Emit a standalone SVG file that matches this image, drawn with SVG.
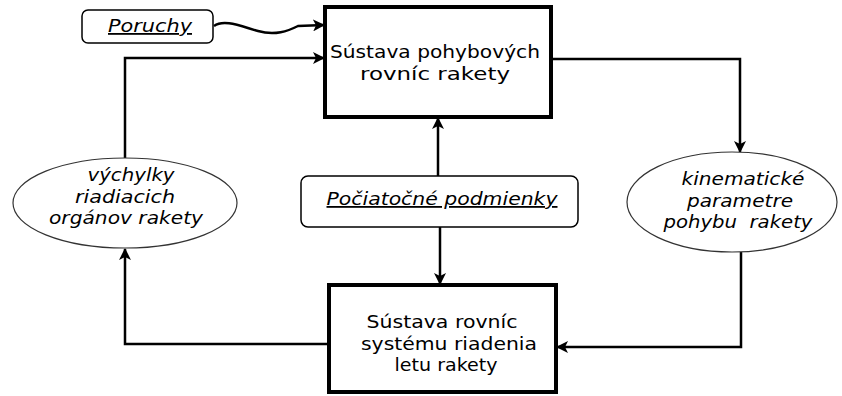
<svg xmlns="http://www.w3.org/2000/svg" width="842" height="396" viewBox="0 0 842 396">
  <style>
    .box { fill: #fff; stroke: #000; stroke-width: 4; }
    .tag { fill: #fff; stroke: #000; stroke-width: 1.5; }
    .oval { fill: #fff; stroke: #333; stroke-width: 1.2; }
    .line { fill: none; stroke: #000; stroke-width: 2.5; }
    .t { font-family: "DejaVu Sans", "Liberation Sans", sans-serif; font-size: 18px; fill: #000; text-anchor: middle; }
    .i { font-family: "DejaVu Sans", "Liberation Sans", sans-serif; font-size: 18px; font-style: italic; fill: #000; text-anchor: middle; }
    .u { text-decoration: underline; }
  </style>
  <defs>
    <marker id="arrow" viewBox="0 0 12 12" refX="11" refY="6" markerWidth="12" markerHeight="12" markerUnits="userSpaceOnUse" orient="auto">
      <path d="M0,0 L12,6 L0,12 L3,6 z" fill="#000"/>
    </marker>
  </defs>

  <!-- connectors -->
  <g id="connectors">
    <path class="line" d="M214,26 C224,19 240,26 258,31 C275,36 288,31 298,26 L324,25" marker-end="url(#arrow)"/>
    <path class="line" d="M125,158 L125,58 L324,58" marker-end="url(#arrow)"/>
    <path class="line" d="M551,59 L740,59 L740,152" marker-end="url(#arrow)"/>
    <path class="line" d="M741,252 L741,347 L557,347" marker-end="url(#arrow)"/>
    <path class="line" d="M329,344 L125,344 L125,249" marker-end="url(#arrow)"/>
    <path class="line" d="M438,176 L438,118" marker-end="url(#arrow)"/>
    <path class="line" d="M440,227 L440,284" marker-end="url(#arrow)"/>
  </g>

  <g id="poruchy">
    <rect class="tag" x="82" y="10" width="131" height="33" rx="6"/>
    <text class="i u" x="150" y="32" textLength="84" lengthAdjust="spacingAndGlyphs">Poruchy</text>
  </g>

  <g id="pohybove-rovnice">
    <rect class="box" x="325" y="7" width="226" height="110"/>
    <text class="t" x="435" y="58" textLength="210" lengthAdjust="spacingAndGlyphs">Sústava pohybových</text>
    <text class="t" x="435" y="80" textLength="150" lengthAdjust="spacingAndGlyphs">rovníc rakety</text>
  </g>

  <g id="pociatocne-podmienky">
    <rect class="tag" x="301" y="176" width="277" height="51" rx="7"/>
    <text class="i u" x="442" y="205" textLength="231" lengthAdjust="spacingAndGlyphs">Počiatočné podmienky</text>
  </g>

  <g id="vychylky">
    <ellipse class="oval" cx="125" cy="203" rx="112" ry="45"/>
    <text class="i" x="131" y="181" textLength="87" lengthAdjust="spacingAndGlyphs">výchylky</text>
    <text class="i" x="125" y="203" textLength="100" lengthAdjust="spacingAndGlyphs">riadiacich</text>
    <text class="i" x="126" y="224" textLength="154" lengthAdjust="spacingAndGlyphs">orgánov rakety</text>
  </g>

  <g id="kinematicke-parametre">
    <ellipse class="oval" cx="732" cy="202" rx="105" ry="50"/>
    <text class="i" x="743" y="185" textLength="123" lengthAdjust="spacingAndGlyphs">kinematické</text>
    <text class="i" x="740" y="207" textLength="106" lengthAdjust="spacingAndGlyphs">parametre</text>
    <text class="i" x="738" y="228" textLength="149" lengthAdjust="spacingAndGlyphs" xml:space="preserve">pohybu  rakety</text>
  </g>

  <g id="riadenie">
    <rect class="box" x="329" y="285" width="227" height="107"/>
    <text class="t" x="442" y="328" textLength="151" lengthAdjust="spacingAndGlyphs">Sústava rovníc</text>
    <text class="t" x="449" y="350" textLength="176" lengthAdjust="spacingAndGlyphs">systému riadenia</text>
    <text class="t" x="446" y="371" textLength="103" lengthAdjust="spacingAndGlyphs">letu rakety</text>
  </g>
</svg>
